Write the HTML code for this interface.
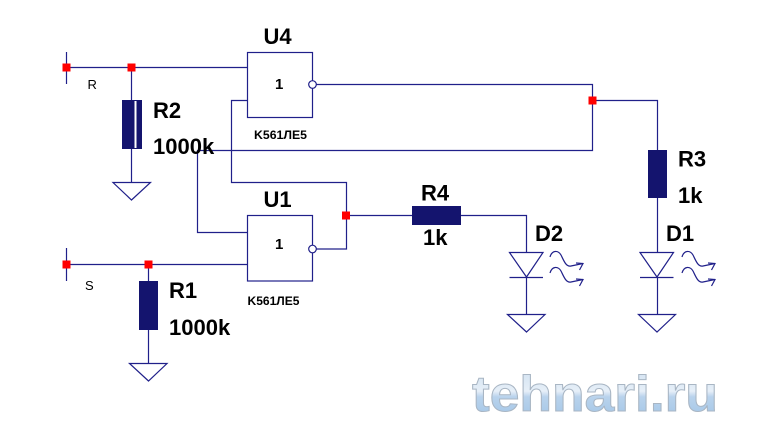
<!DOCTYPE html>
<html><head><meta charset="utf-8"><style>
html,body{margin:0;padding:0;background:#fff;}
svg{display:block;}
text{font-family:"Liberation Sans",Arial,sans-serif;}
</style></head><body>
<svg width="771" height="444" viewBox="0 0 771 444" xmlns="http://www.w3.org/2000/svg">
<defs>
<linearGradient id="wm" x1="0" y1="0" x2="0" y2="1">
<stop offset="0" stop-color="#cfe0f0"/>
<stop offset="0.45" stop-color="#e6eff8"/>
<stop offset="0.55" stop-color="#b9d3ec"/>
<stop offset="1" stop-color="#9fc3e6"/>
</linearGradient>
</defs>
<rect width="771" height="444" fill="#fff"/>
<g fill="none" stroke="#20208a" stroke-width="1.2">
<!-- R input -->
<path d="M66.5,52 V84"/>
<path d="M66.5,67.5 H247.5"/>
<path d="M131.5,67.5 V100"/>
<path d="M131.5,149 V182"/>
<polygon points="113,182.5 150.5,182.5 131.5,200"/>
<!-- U4 -->
<rect x="247.5" y="52.5" width="65" height="65"/>
<circle cx="312.5" cy="84.5" r="3.8" fill="#fff"/>
<path d="M316.3,84.5 H592.5 V150.5 H197.5 V232.5 H247.5"/>
<path d="M592.5,100.5 H657.5 V150"/>
<path d="M657.5,198 V252.5"/>
<polygon points="640,252.5 673.5,252.5 657,277"/>
<path d="M640,277.5 H673.5"/>
<path d="M657.5,277 V314.5"/>
<polygon points="638.5,314.5 675.5,314.5 657,332"/>
<!-- U4 second input / U1 output loop -->
<path d="M247.5,100.5 H231.5 V182.5 H346.5 V249 H316.3"/>
<!-- U1 -->
<rect x="247.5" y="215.5" width="65" height="65.5"/>
<circle cx="312.5" cy="249" r="3.8" fill="#fff"/>
<path d="M346.5,215.5 H412"/>
<path d="M461,215.5 H526.5 V252.5"/>
<polygon points="509.5,252.5 543,252.5 526.5,277"/>
<path d="M509.5,277.5 H543"/>
<path d="M526.5,277 V314.5"/>
<polygon points="507.5,314.5 545,314.5 526.5,332"/>
<!-- S input -->
<path d="M66.5,248 V281"/>
<path d="M66.5,264.5 H247.5"/>
<path d="M148.5,264.5 V281"/>
<path d="M148.5,330 V363"/>
<polygon points="129.5,363.5 167,363.5 148.5,381"/>
<!-- light arrows D2 -->
<path d="M550,257 C552,250 558,250 561,255 C564,261 566,267 571,266 L583,263.5"/>
<path d="M576,263 L583,263.5 L579.5,270"/>
<path d="M550,273 C552,266 558,266 561,271 C564,277 566,283 571,282 L583,279.5"/>
<path d="M576,279 L583,279.5 L579.5,286"/>
<!-- light arrows D1 -->
<path d="M682,257 C684,250 690,250 693,255 C696,261 698,267 703,266 L715,263.5"/>
<path d="M708,263 L715,263.5 L711.5,270"/>
<path d="M682,273 C684,266 690,266 693,271 C696,277 698,283 703,282 L715,279.5"/>
<path d="M708,279 L715,279.5 L711.5,286"/>
</g>
<!-- resistors -->
<g fill="#14146e">
<rect x="122" y="100" width="20" height="49"/>
<rect x="139" y="281" width="19" height="49"/>
<rect x="412" y="206" width="49" height="19"/>
<rect x="648" y="150" width="19" height="48"/>
</g>
<rect x="134.5" y="101" width="2" height="47" fill="#fff"/>
<!-- red junctions -->
<g fill="#ff0000">
<rect x="62.5" y="63.5" width="8" height="8"/>
<rect x="127.5" y="63.5" width="8" height="8"/>
<rect x="588.5" y="96.5" width="8" height="8"/>
<rect x="342" y="211.5" width="8" height="8"/>
<rect x="62.5" y="260.5" width="8" height="8"/>
<rect x="144.5" y="260.5" width="8" height="8"/>
</g>
<!-- labels -->
<g fill="#000" font-weight="bold" font-size="22">
<text x="263.5" y="44">U4</text>
<text x="263.5" y="207">U1</text>
<text x="153" y="118">R2</text>
<text x="153" y="154">1000k</text>
<text x="169" y="298">R1</text>
<text x="169" y="335">1000k</text>
<text x="421" y="200.5">R4</text>
<text x="423" y="245">1k</text>
<text x="678" y="166.5">R3</text>
<text x="678" y="203">1k</text>
<text x="535" y="241">D2</text>
<text x="666" y="241">D1</text>
</g>
<g fill="#000" font-weight="bold" font-size="15">
<text x="275" y="89">1</text>
<text x="275" y="249">1</text>
</g>
<g fill="#000" font-weight="bold" font-size="12">
<text x="254" y="139" textLength="53" lengthAdjust="spacingAndGlyphs">K561ЛЕ5</text>
<text x="247.5" y="305" textLength="52" lengthAdjust="spacingAndGlyphs">K561ЛЕ5</text>
</g>
<g fill="#000" font-size="13">
<text x="87.5" y="89">R</text>
<text x="85" y="290">S</text>
</g>
<!-- watermark -->
<text x="472" y="411" font-family="'DejaVu Sans','Liberation Sans',sans-serif" font-weight="bold" font-size="50" textLength="246" lengthAdjust="spacingAndGlyphs" fill="url(#wm)" stroke="#a9b6c4" stroke-width="1">tehnari.ru</text>
</svg>
</body></html>
